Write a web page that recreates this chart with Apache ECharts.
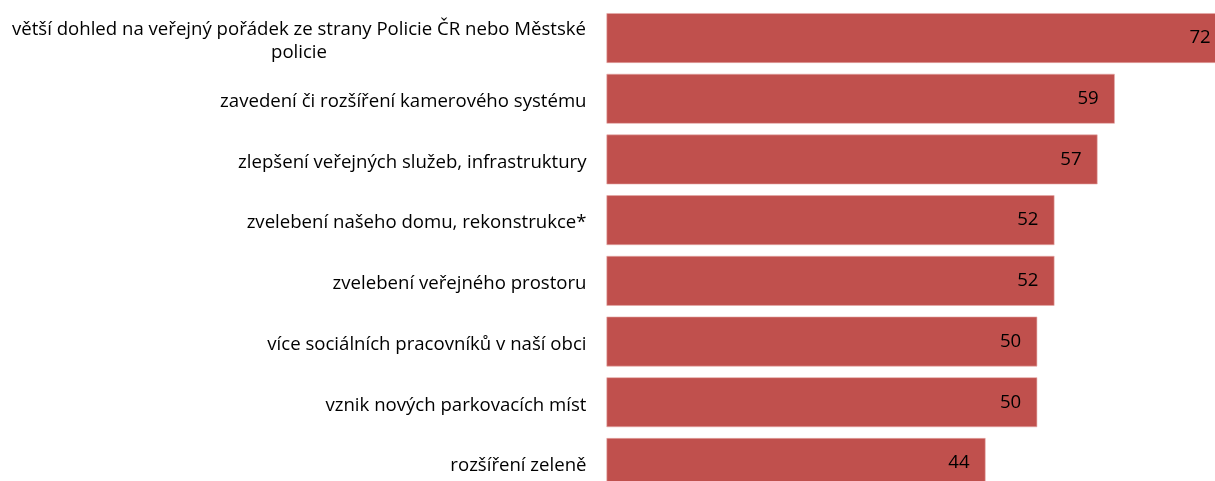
<!DOCTYPE html>
<html>
<head>
<meta charset="utf-8">
<script src="https://cdn.jsdelivr.net/npm/echarts@6/dist/echarts.min.js"></script>
<style>
  html, body { margin: 0; padding: 0; background: #fff; overflow: hidden; width: 1215px; height: 481px; }
  /* the chart runs past the window on the right and at the bottom */
  #chart { width: 1250px; height: 500px; }
</style>
</head>
<body>
<div id="chart"></div>
<script>
// Measures and their share (in %), top to bottom
const categories = [
  'větší dohled na veřejný pořádek ze strany Policie ČR nebo Městské\npolicie',
  'zavedení či rozšíření kamerového systému',
  'zlepšení veřejných služeb, infrastruktury',
  'zvelebení našeho domu, rekonstrukce*',
  'zvelebení veřejného prostoru',
  'více sociálních pracovníků v naší obci',
  'vznik nových parkovacích míst',
  'rozšíření zeleně'
];
const values = [72, 59, 57, 52, 52, 50, 50, 44];

const FONT = '"Open Sans"';

function textWidth(str, size) {
  const c = document.createElement('canvas').getContext('2d');
  c.font = size + 'px ' + FONT;
  return c.measureText(str).width;
}
// size the text so the longest line spans the space left of the bars
const firstLine = categories[0].split('\n')[0];
const FONT_SIZE = Math.round(100 * 574 / textWidth(firstLine, 100) * 10) / 10;
const wrapWidth = Math.ceil(textWidth(firstLine, FONT_SIZE));

const chart = echarts.init(document.getElementById('chart'), null, { renderer: 'canvas' });

chart.setOption({
  animation: false,
  grid: { left: 606.5, top: 7.7, height: 485.6, right: 0, containLabel: false },
  xAxis: {
    type: 'value', min: 0, max: 74.7,
    show: false
  },
  yAxis: {
    type: 'category',
    inverse: true,
    data: categories,
    axisLine: { show: false },
    axisTick: { show: false },
    axisLabel: {
      margin: 20,
      color: '#000',
      fontFamily: FONT,
      fontSize: FONT_SIZE,
      lineHeight: 23,
      padding: [6, 0, 0, 0],
      formatter: function (v) {
        if (v.indexOf('\n') < 0) return v;
        return v.split('\n').map(s => '{w|' + s + '}').join('\n');
      },
      rich: {
        w: { width: wrapWidth, align: 'center', fontFamily: FONT, fontSize: FONT_SIZE, lineHeight: 23, color: '#000' }
      }
    }
  },
  series: [{
    type: 'bar',
    data: values,
    barCategoryGap: '18%',
    itemStyle: { color: '#C0504D', borderColor: '#e6a9a7', borderWidth: 0.6 },
    label: {
      show: true,
      position: 'insideRight',
      distance: 16,
      color: '#000',
      fontFamily: FONT,
      fontSize: FONT_SIZE,
      padding: [4, 0, 0, 0]
    }
  }]
});
</script>
</body>
</html>
